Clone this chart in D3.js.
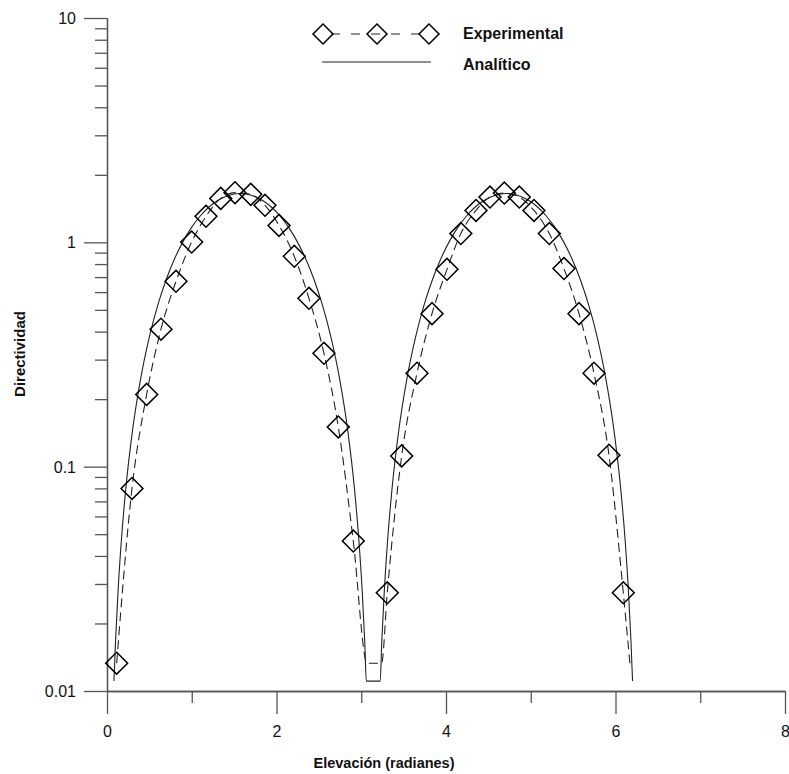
<!DOCTYPE html>
<html>
<head>
<meta charset="utf-8">
<script src="https://cdn.jsdelivr.net/npm/d3@7"></script>
<style>
  html, body { margin: 0; padding: 0; background: #fff; }
  svg { display: block; font-family: Arial, "Liberation Sans", sans-serif; }
</style>
</head>
<body>
<svg id="chart" width="789" height="774"></svg>
<script>
// ---- Data ----
// Experimental measurements (diamond markers)
const expTheta = [0.114, 0.295, 0.468, 0.637, 0.814, 0.999, 1.168, 1.342, 1.510, 1.696, 1.864, 2.030, 2.210, 2.383, 2.560, 2.729, 2.906,
                  3.307, 3.477, 3.658, 3.835, 4.012, 4.175, 4.354, 4.519, 4.688, 4.865, 5.038, 5.219, 5.392, 5.569, 5.746, 5.923, 6.092];
const expValue = [0.0133, 0.080, 0.210, 0.410, 0.670, 1.003, 1.306, 1.57, 1.665, 1.636, 1.462, 1.19, 0.866, 0.563, 0.320, 0.1504, 0.0466,
                  0.0274, 0.1117, 0.261, 0.481, 0.758, 1.094, 1.388, 1.592, 1.658, 1.592, 1.388, 1.094, 0.764, 0.481, 0.261, 0.1125, 0.0274];
// Experimental samples without a marker (floor values near pi and 2pi)
const expExtraTheta = [3.07, 3.24, 6.17];
const expExtraValue = [0.0133, 0.0133, 0.0133];

// Analytic curve samples
const anaTheta = [0.082, 0.100, 0.130, 0.170, 0.220, 0.300, 0.400, 0.500, 0.600, 0.700, 0.800, 0.900, 1.000, 1.100, 1.200, 1.300, 1.400, 1.500, 1.5708,
                  1.6416, 1.7416, 1.8416, 1.9416, 2.0416, 2.1416, 2.2416, 2.3416, 2.4416, 2.5416, 2.6416, 2.7416, 2.8416, 2.9216, 2.9716, 3.0116, 3.0416, 3.0596,
                  3.2236, 3.2416, 3.2716, 3.3116, 3.3616, 3.4416, 3.5416, 3.6416, 3.7416, 3.8416, 3.9416, 4.0416, 4.1416, 4.2416, 4.3416, 4.4416, 4.5416, 4.6416, 4.7124,
                  4.7832, 4.8832, 4.9832, 5.0832, 5.1832, 5.2832, 5.3832, 5.4832, 5.5832, 5.6832, 5.7832, 5.8832, 5.9832, 6.0632, 6.1132, 6.1532, 6.1832, 6.2012];
const anaValue = [0.01107, 0.01645, 0.02773, 0.04723, 0.07858, 0.1441, 0.2502, 0.3793, 0.5261, 0.6848, 0.8491, 1.0124, 1.1683, 1.3105, 1.4334, 1.5319, 1.6023, 1.6417, 1.65,
                  1.6417, 1.6023, 1.5319, 1.4334, 1.3105, 1.1683, 1.0124, 0.8491, 0.6848, 0.5261, 0.3793, 0.2502, 0.1441, 0.07858, 0.04723, 0.02773, 0.01645, 0.01107,
                  0.01107, 0.01645, 0.02773, 0.04723, 0.07858, 0.1441, 0.2502, 0.3793, 0.5261, 0.6848, 0.8491, 1.0124, 1.1683, 1.3105, 1.4334, 1.5319, 1.6023, 1.6417, 1.65,
                  1.6417, 1.6023, 1.5319, 1.4334, 1.3105, 1.1683, 1.0124, 0.8491, 0.6848, 0.5261, 0.3793, 0.2502, 0.1441, 0.07858, 0.04723, 0.02773, 0.01645, 0.01107];

const xMajorTicks = [0, 2, 4, 6, 8];
const xMinorTicks = [1, 3, 5, 7];
const yMajorTicks = [0.01, 0.1, 1, 10];
const yTickLabels = ["0.01", "0.1", "1", "10"];
const yMinorTicks = [0.02,0.03,0.04,0.05,0.06,0.07,0.08,0.09, 0.2,0.3,0.4,0.5,0.6,0.7,0.8,0.9, 2,3,4,5,6,7,8,9];

const legendLabels = ["Experimental", "Analítico"];
const xTitle = "Elevación (radianes)";
const yTitle = "Directividad";

// ---- Layout ----
const svg = d3.select("#chart");
const x = d3.scaleLinear().domain([0, 8]).range([107, 785]);
const y = d3.scaleLog().domain([0.01, 10]).range([691, 18]);
const axisColor = "#555";

// minor ticks
const gxMinor = svg.append("g").attr("transform", `translate(0,${y(0.01)})`)
  .call(d3.axisBottom(x).tickValues(xMinorTicks).tickSize(12).tickSizeOuter(0).tickFormat(""));
const gyMinor = svg.append("g").attr("transform", `translate(${x(0)},0)`)
  .call(d3.axisLeft(y).tickValues(yMinorTicks).tickSize(12).tickSizeOuter(0).tickFormat(""));

// major
const gx = svg.append("g").attr("transform", `translate(0,${y(0.01)})`)
  .call(d3.axisBottom(x).tickValues(xMajorTicks).tickSize(23).tickSizeOuter(0).tickPadding(12).tickFormat(d3.format("d")));
const gy = svg.append("g").attr("transform", `translate(${x(0)},0)`)
  .call(d3.axisLeft(y).tickValues(yMajorTicks).tickSize(23).tickSizeOuter(0).tickPadding(8)
        .tickFormat((d, i) => yTickLabels[i]));

[gxMinor, gyMinor, gx, gy].forEach(g => {
  g.selectAll("path.domain").attr("stroke", axisColor).attr("stroke-width", 1.3);
  g.selectAll(".tick line").attr("stroke", axisColor).attr("stroke-width", 1.3);
  g.selectAll(".tick text").attr("fill", "#111").style("font-size", "16px").style("font-family", "Arial, 'Liberation Sans', sans-serif");
});
gy.selectAll(".tick text").attr("dy", "0.35em");

// Axis titles
svg.append("text").attr("x", 384).attr("y", 768).attr("text-anchor", "middle")
  .style("font-size", "14.5px").style("font-weight", "bold").attr("fill", "#111").text(xTitle);
svg.append("text").attr("transform", "translate(25,354) rotate(-90)").attr("text-anchor", "middle")
  .style("font-size", "15px").style("font-weight", "bold").attr("fill", "#111").text(yTitle);

// ---- Curves ----
const analytic = anaTheta.map((t, i) => [t, anaValue[i]]);
const expPoints = expTheta.map((t, i) => [t, expValue[i]]);
const expLineData = expPoints.concat(expExtraTheta.map((t, i) => [t, expExtraValue[i]]))
  .sort((a, b) => a[0] - b[0]);

const line = d3.line().x(d => x(d[0])).y(d => y(d[1])).curve(d3.curveMonotoneX);

svg.append("path").datum(analytic).attr("d", line)
  .attr("fill", "none").attr("stroke", "#222").attr("stroke-width", 1.1);
svg.append("path").datum(expLineData).attr("d", line)
  .attr("fill", "none").attr("stroke", "#222").attr("stroke-width", 1.1).attr("stroke-dasharray", "9,5");

const diamond = d3.symbol().type(d3.symbolSquare).size(240);
svg.append("g").selectAll("path").data(expPoints).join("path")
  .attr("d", diamond)
  .attr("transform", d => `translate(${x(d[0])},${y(d[1])}) rotate(45)`)
  .attr("fill", "none").attr("stroke", "#000").attr("stroke-width", 1.5);

// ---- Legend ----
const lg = svg.append("g");
lg.append("line").attr("x1", 323).attr("x2", 429).attr("y1", 34).attr("y2", 34)
  .attr("stroke", "#222").attr("stroke-width", 1.1).attr("stroke-dasharray", "9,11").attr("stroke-dashoffset", -8);
[323, 377, 429].forEach(cx => {
  lg.append("path").attr("d", d3.symbol().type(d3.symbolSquare).size(200))
    .attr("transform", `translate(${cx},34) rotate(45)`)
    .attr("fill", "none").attr("stroke", "#000").attr("stroke-width", 1.5);
});
lg.append("line").attr("x1", 322).attr("x2", 431).attr("y1", 62).attr("y2", 62)
  .attr("stroke", "#222").attr("stroke-width", 1.1);
lg.append("text").attr("x", 463).attr("y", 39).style("font-size", "16px").style("font-weight", "bold")
  .attr("fill", "#111").text(legendLabels[0]);
lg.append("text").attr("x", 463).attr("y", 70).style("font-size", "16px").style("font-weight", "bold")
  .attr("fill", "#111").text(legendLabels[1]);
</script>
</body>
</html>
